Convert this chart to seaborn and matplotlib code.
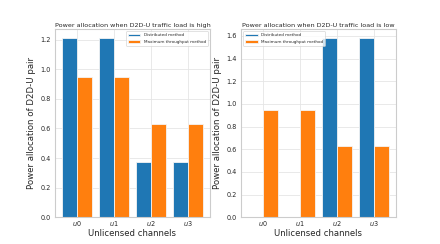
import numpy as np
import pandas as pd
import matplotlib
matplotlib.use("Agg")
import matplotlib.pyplot as plt
import seaborn as sns

channels = ["$u0$", "$u1$", "$u2$", "$u3$"]
methods = ["Distributed method", "Maximum throughput method"]
high_distributed = [1.21, 1.21, 0.37, 0.37]
high_maxthroughput = [0.945, 0.945, 0.63, 0.63]
low_distributed = [0.0, 0.0, 1.58, 1.58]
low_maxthroughput = [0.945, 0.945, 0.63, 0.63]
titles = ["Power allocation when D2D-U traffic load is high",
          "Power allocation when D2D-U traffic load is low"]

sns.set_style("whitegrid")
plt.rcParams["font.family"] = ["DejaVu Sans"]

def make_df(d, m):
    return pd.DataFrame({
        "channel": channels * 2,
        "power": list(d) + list(m),
        "method": [methods[0]] * len(channels) + [methods[1]] * len(channels),
    })

fig, axes = plt.subplots(1, 2, figsize=(4.4, 2.44), dpi=100)
palette = ["#1f77b4", "#ff7f0e"]
data = [(high_distributed, high_maxthroughput), (low_distributed, low_maxthroughput)]
locs = ["upper right", "upper left"]
for ax, (d, m), title, loc in zip(axes, data, titles, locs):
    df = make_df(d, m)
    sns.barplot(data=df, x="channel", y="power", hue="method", palette=palette,
                ax=ax, width=0.8, edgecolor="#f4f4f4", linewidth=0.6, saturation=1)
    ax.set_xlim(-0.59, 3.59)
    ymax = max(max(d), max(m)) * 1.05
    ax.set_ylim(0, ymax)
    ax.set_title(title, fontsize=4.6, pad=2)
    ax.set_xlabel("Unlicensed channels", fontsize=6.1, labelpad=0.5)
    ax.set_ylabel("Power allocation of D2D-U pair", fontsize=6.2, labelpad=3)
    ax.tick_params(axis="y", labelsize=4.7, pad=3.2, length=0)
    ax.tick_params(axis="x", labelsize=4.7, pad=1.5, length=0)
    ax.grid(True, color="#e5e5e5", linewidth=0.6)
    for s in ax.spines.values():
        s.set_color("#cccccc")
        s.set_linewidth(0.8)
    ax.set_axisbelow(True)
    leg = ax.legend(loc=loc, fontsize=3, frameon=True, handlelength=3, borderpad=0.5)
    leg.get_frame().set_edgecolor("#cccccc")
    leg.get_frame().set_linewidth(0.5)

fig.savefig("out.png", dpi=100)
